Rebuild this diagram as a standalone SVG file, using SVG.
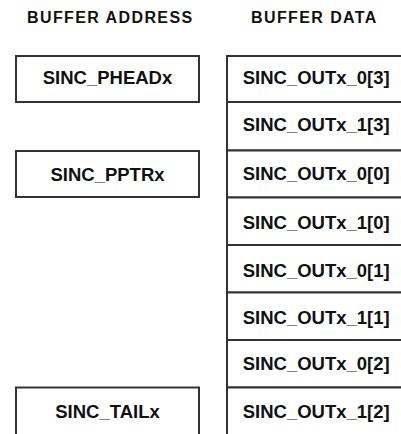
<svg xmlns="http://www.w3.org/2000/svg" width="401" height="434" viewBox="0 0 401 434">
<style>
.box{fill:#fff;stroke:#333;stroke-width:2}
.t{font-family:"Liberation Sans",Arial,sans-serif;font-weight:bold;font-size:18.5px;fill:#111}
.h{font-family:"Liberation Sans",Arial,sans-serif;font-weight:bold;font-size:16px;fill:#111;letter-spacing:1.4px}
.c{text-anchor:middle}
</style>
<rect width="401" height="434" fill="#fff"/>
<g id="headers">
<text class="h" x="27" y="23">BUFFER ADDRESS</text>
<text class="h" x="251" y="23">BUFFER DATA</text>
</g>
<g id="addr-phead"><rect class="box" x="16" y="56" width="183" height="46"/><text class="t c" x="107.5" y="84.3">SINC_PHEADx</text></g>
<g id="addr-pptr"><rect class="box" x="16" y="151" width="183" height="46"/><text class="t c" x="107.5" y="181">SINC_PPTRx</text></g>
<g id="addr-tail"><rect class="box" x="16" y="387.5" width="183" height="60"/><text class="t c" x="107.5" y="417.7">SINC_TAILx</text></g>
<g id="data-0-3"><rect class="box" x="227" y="56" width="190" height="46"/><text class="t" x="242.7" y="84.3">SINC_OUTx_0[3]</text></g>
<g id="data-1-3"><rect class="box" x="227" y="102" width="190" height="48.5"/><text class="t" x="242.7" y="130.7">SINC_OUTx_1[3]</text></g>
<g id="data-0-0"><rect class="box" x="227" y="150.5" width="190" height="47"/><text class="t" x="242.7" y="180.3">SINC_OUTx_0[0]</text></g>
<g id="data-1-0"><rect class="box" x="227" y="197.5" width="190" height="47.5"/><text class="t" x="242.7" y="229.2">SINC_OUTx_1[0]</text></g>
<g id="data-0-1"><rect class="box" x="227" y="245" width="190" height="47.5"/><text class="t" x="242.7" y="276.7">SINC_OUTx_0[1]</text></g>
<g id="data-1-1"><rect class="box" x="227" y="292.5" width="190" height="47.5"/><text class="t" x="242.7" y="324.3">SINC_OUTx_1[1]</text></g>
<g id="data-0-2"><rect class="box" x="227" y="340" width="190" height="47.5"/><text class="t" x="242.7" y="370">SINC_OUTx_0[2]</text></g>
<g id="data-1-2"><rect class="box" x="227" y="387.5" width="190" height="60"/><text class="t" x="242.7" y="417.7">SINC_OUTx_1[2]</text></g>
<g id="connectors"/>
</svg>
